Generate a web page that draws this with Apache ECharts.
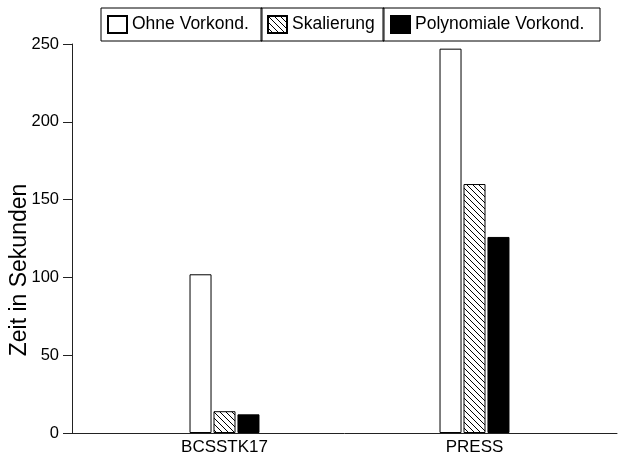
<!DOCTYPE html>
<html>
<head>
<meta charset="utf-8">
<script src="https://cdn.jsdelivr.net/npm/echarts@6/dist/echarts.min.js"></script>
<style>
  html, body { margin: 0; padding: 0; background: #fff; }
  #chart { width: 618px; height: 461px; }
</style>
</head>
<body>
<div id="chart"></div>
<script>
const categories = ["BCSSTK17", "PRESS"];
const ohneVorkond = [102, 247];
const skalierung = [14, 160];
const polynomiale = [12, 126];
const yTicks = { min: 0, max: 250, interval: 50 };
const yTitle = "Zeit in Sekunden";

const FONT = "Liberation Sans";

// diagonal hatch for "Skalierung"
const makeHatch = () => {
  const c = document.createElement("canvas");
  c.width = 6;
  c.height = 6;
  const ctx = c.getContext("2d");
  ctx.fillStyle = "#fff";
  ctx.fillRect(0, 0, 6, 6);
  ctx.strokeStyle = "#000";
  ctx.lineWidth = 1;
  ctx.beginPath();
  ctx.moveTo(-1, -1);
  ctx.lineTo(7, 7);
  ctx.moveTo(-1, 5);
  ctx.lineTo(1, 7);
  ctx.moveTo(5, -1);
  ctx.lineTo(7, 1);
  ctx.stroke();
  return c;
};

const toPoints = (vals) => vals.map((v, i) => [i + 1, v]);

const legendBox = (name, left, padLeft, textWidth) => ({
  data: [name],
  left: left,
  top: 8,
  icon: "rect",
  itemWidth: 19,
  itemHeight: 17,
  selectedMode: false,
  borderColor: "#000",
  borderWidth: 1,
  padding: [7, 3, 7, padLeft],
  formatter: "{t|{name}}",
  textStyle: {
    rich: {
      t: { width: textWidth, fontSize: 17.5, lineHeight: 20, fontFamily: FONT, color: "#000" }
    }
  }
});

const chart = echarts.init(document.getElementById("chart"));
chart.setOption({
  animation: false,
  backgroundColor: "#fff",
  legend: [
    legendBox("Ohne Vorkond.", 101, 6, 127),
    legendBox("Skalierung", 261, 6, 89),
    legendBox("Polynomiale Vorkond.", 383, 7, 182)
  ],
  graphic: [
    {
      type: "text",
      x: 20,
      y: 270,
      rotation: Math.PI / 2,
      style: {
        text: yTitle,
        align: "center",
        verticalAlign: "middle",
        font: "23px " + FONT,
        fill: "#000"
      }
    }
  ],
  grid: { left: 72, right: 1, top: 44, bottom: 28, outerBoundsMode: "none" },
  xAxis: {
    type: "value",
    min: 0.39,
    max: 2.57,
    splitLine: { show: false },
    axisLine: { show: true, lineStyle: { color: "#222", width: 1 } },
    axisTick: { show: false },
    axisLabel: {
      customValues: [1, 2],
      formatter: (v) => categories[v - 1] || "",
      fontFamily: FONT,
      fontSize: 17,
      color: "#000",
      margin: 6
    }
  },
  yAxis: {
    type: "value",
    min: yTicks.min,
    max: yTicks.max,
    interval: yTicks.interval,
    splitLine: { show: false },
    axisLine: { show: true, lineStyle: { color: "#222", width: 1 } },
    axisTick: { show: true, inside: false, length: 9, lineStyle: { color: "#222" } },
    axisLabel: { fontFamily: FONT, fontSize: 16.5, color: "#000", margin: 13 }
  },
  series: [
    {
      name: "Ohne Vorkond.",
      type: "bar",
      barWidth: 22,
      barGap: "9%",
      data: toPoints(ohneVorkond),
      itemStyle: { color: "#fff", borderColor: "#000", borderWidth: 1 }
    },
    {
      name: "Skalierung",
      type: "bar",
      barWidth: 22,
      barGap: "9%",
      data: toPoints(skalierung),
      itemStyle: {
        color: { image: makeHatch(), repeat: "repeat" },
        borderColor: "#000",
        borderWidth: 1
      }
    },
    {
      name: "Polynomiale Vorkond.",
      type: "bar",
      barWidth: 22,
      barGap: "9%",
      data: toPoints(polynomiale),
      itemStyle: { color: "#000", borderColor: "#000", borderWidth: 1 }
    }
  ]
});
</script>
</body>
</html>
